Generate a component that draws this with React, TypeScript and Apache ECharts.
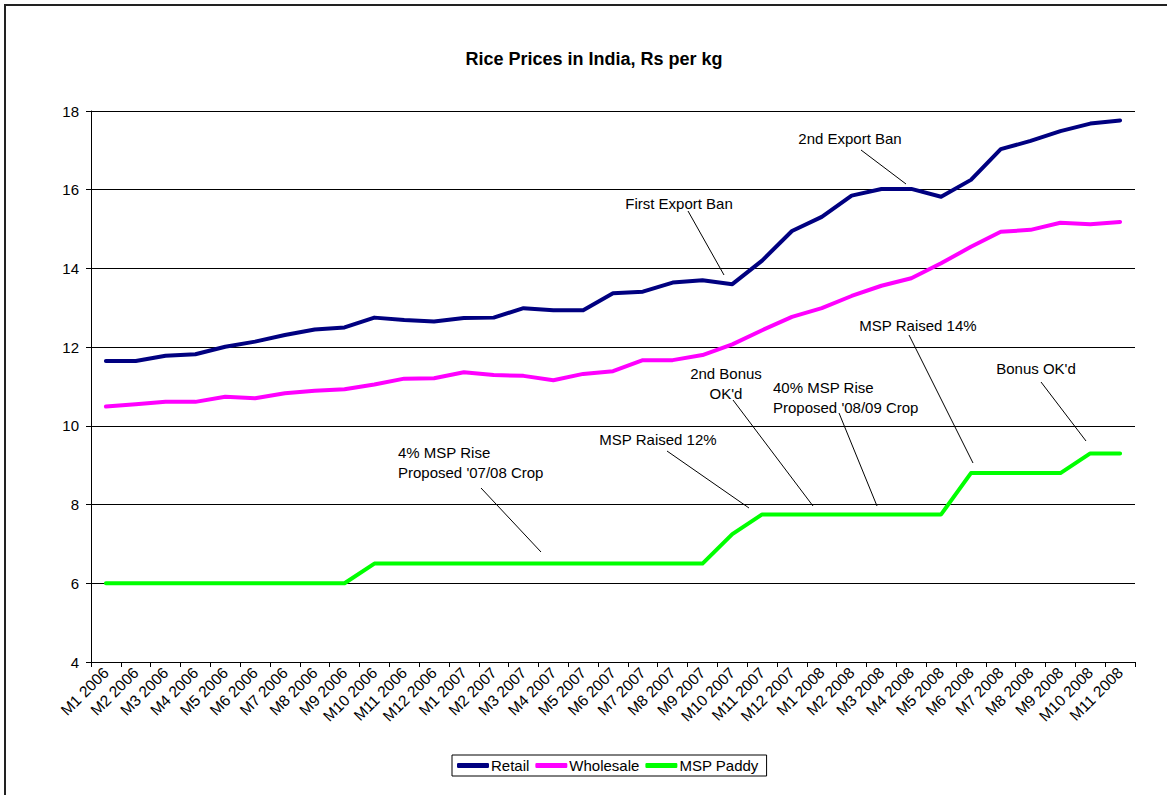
import React, { useEffect, useRef } from "react";
import * as echarts from "echarts";

const categories = [
  "M1 2006", "M2 2006", "M3 2006", "M4 2006", "M5 2006", "M6 2006", "M7 2006", "M8 2006", "M9 2006", "M10 2006", "M11 2006", "M12 2006",
  "M1 2007", "M2 2007", "M3 2007", "M4 2007", "M5 2007", "M6 2007", "M7 2007", "M8 2007", "M9 2007", "M10 2007", "M11 2007", "M12 2007",
  "M1 2008", "M2 2008", "M3 2008", "M4 2008", "M5 2008", "M6 2008", "M7 2008", "M8 2008", "M9 2008", "M10 2008", "M11 2008",
];

const retail = [
  11.65, 11.65, 11.78, 11.82, 12.01, 12.14, 12.31, 12.45, 12.5, 12.75, 12.69, 12.65,
  12.74, 12.75, 12.99, 12.94, 12.94, 13.37, 13.41, 13.64, 13.7, 13.6, 14.2, 14.95,
  15.31, 15.85, 16.02, 16.02, 15.82, 16.25, 17.03, 17.24, 17.49, 17.68, 17.76,
];

const wholesale = [
  10.49, 10.55, 10.61, 10.61, 10.74, 10.7, 10.83, 10.89, 10.93, 11.05, 11.2, 11.21,
  11.36, 11.29, 11.27, 11.16, 11.32, 11.39, 11.67, 11.67, 11.8, 12.07, 12.43, 12.77,
  12.99, 13.3, 13.56, 13.75, 14.13, 14.55, 14.93, 14.98, 15.16, 15.12, 15.18,
];

const mspPaddy = [
  6, 6, 6, 6, 6, 6, 6, 6, 6, 6.5, 6.5, 6.5,
  6.5, 6.5, 6.5, 6.5, 6.5, 6.5, 6.5, 6.5, 6.5, 7.25, 7.75, 7.75,
  7.75, 7.75, 7.75, 7.75, 7.75, 8.8, 8.8, 8.8, 8.8, 9.3, 9.3,
];

const seriesNames = ["Retail", "Wholesale", "MSP Paddy"];
const seriesColors = ["#000080", "#FF00FF", "#00FF00"];

const FONT = "Arial, 'Liberation Sans', sans-serif";

// Annotation callouts (text + leader line), in pixels
const annotations = [
  { text: "First Export Ban", x: 679, y: 203, align: "center", line: [688, 211, 724, 275] },
  { text: "2nd Export Ban", x: 850, y: 138, align: "center", line: [861, 150, 906, 184] },
  { text: "MSP Raised 14%", x: 918, y: 325, align: "center", line: [909, 335, 973, 463] },
  { text: "Bonus OK'd", x: 1036, y: 368, align: "center", line: [1041, 382, 1086, 441] },
  { text: "2nd Bonus\nOK'd", x: 726, y: 383, align: "center", line: [733, 400, 813, 506] },
  { text: "40% MSP Rise\nProposed '08/09 Crop", x: 773, y: 397, align: "left", line: [839, 413, 877, 506] },
  { text: "MSP Raised 12%", x: 658, y: 439, align: "center", line: [667, 451, 749, 508] },
  { text: "4% MSP Rise\nProposed '07/08 Crop", x: 398, y: 462, align: "left", line: [481, 488, 541, 552] },
];

export default function App() {
  const ref = useRef<HTMLDivElement>(null);

  useEffect(() => {
    document.body.style.margin = "0";
    if (!ref.current) return;
    const chart = echarts.init(ref.current, undefined, { renderer: "svg" });

    const dataSets = [retail, wholesale, mspPaddy];

    const graphics: any[] = [
      { type: "line", shape: { x1: 4, y1: 5, x2: 1167, y2: 5 }, style: { stroke: "#222", lineWidth: 2 }, silent: true },
      { type: "line", shape: { x1: 5, y1: 4, x2: 5, y2: 795 }, style: { stroke: "#222", lineWidth: 2 }, silent: true },
    ];
    annotations.forEach((a) => {
      graphics.push({
        type: "text",
        x: a.x,
        y: a.y,
        style: {
          text: a.text,
          fill: "#000",
          font: `15px ${FONT}`,
          textAlign: a.align,
          textVerticalAlign: "middle",
          lineHeight: 20,
        },
        silent: true,
      });
      graphics.push({
        type: "line",
        shape: { x1: a.line[0], y1: a.line[1], x2: a.line[2], y2: a.line[3] },
        style: { stroke: "#000", lineWidth: 1 },
        silent: true,
      });
    });

    chart.setOption({
      animation: false,
      backgroundColor: "#fff",
      title: {
        text: "Rice Prices in India, Rs per kg",
        left: 589,
        top: 45,
        textAlign: "center",
        textStyle: { fontFamily: FONT, fontSize: 18, fontWeight: "bold", color: "#000" },
      },
      legend: {
        data: seriesNames,
        left: 452,
        top: 755,
        orient: "horizontal",
        itemWidth: 32,
        itemHeight: 5,
        itemGap: 6,
        icon: "roundRect",
        padding: [3, 8, 3, 5],
        borderColor: "#000",
        borderWidth: 1,
        borderRadius: 0,
        textStyle: { fontFamily: FONT, fontSize: 15, color: "#000", padding: [0, 0, 0, -3] },
      },
      grid: { left: 91, right: 32, top: 111, bottom: 133, containLabel: false },
      xAxis: {
        type: "category",
        data: categories,
        boundaryGap: true,
        axisLine: { show: true, lineStyle: { color: "#000", width: 1 } },
        axisTick: { show: true, alignWithLabel: false, length: 5, lineStyle: { color: "#000" } },
        axisLabel: {
          interval: 0,
          rotate: 45,
          margin: 8,
          fontFamily: FONT,
          fontSize: 15.5,
          color: "#000",
        },
        splitLine: { show: false },
      },
      yAxis: {
        type: "value",
        min: 4,
        max: 18,
        interval: 2,
        axisLine: { show: true, lineStyle: { color: "#000", width: 1 } },
        axisTick: { show: true, length: 5, lineStyle: { color: "#000" } },
        axisLabel: { margin: 12, fontFamily: FONT, fontSize: 15, color: "#000" },
        splitLine: { show: true, lineStyle: { color: "#000", width: 1 } },
      },
      series: seriesNames.map((name, i) => ({
        name,
        type: "line",
        data: dataSets[i],
        symbol: "none",
        smooth: false,
        itemStyle: { color: seriesColors[i] },
        lineStyle: { color: seriesColors[i], width: 4, cap: "round", join: "round" },
        z: 3 - i,
      })),
      graphic: graphics,
    });

    return () => {
      chart.dispose();
    };
  }, []);

  return <div ref={ref} style={{ width: 1167, height: 795 }} />;
}
